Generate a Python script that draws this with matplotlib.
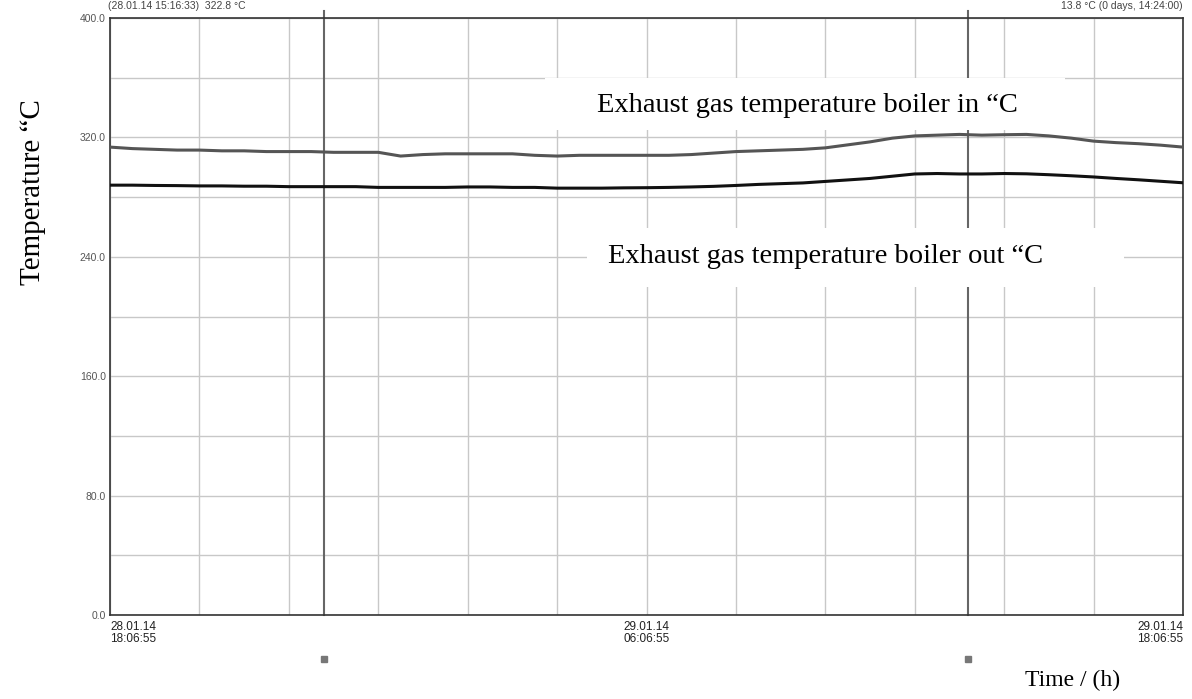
import numpy as np
import matplotlib.pyplot as plt
from matplotlib.patches import Rectangle

# time axis: hours since 28.01.14 18:06:55, read every 30 min
hours = [i * 0.5 for i in range(49)]

boiler_in = [313.5, 312.5, 312.0, 311.5, 311.5, 311.0, 311.0, 310.5, 310.5, 310.5,
             310.0, 310.0, 310.0, 307.5, 308.5, 309.0, 309.0, 309.0, 309.0, 308.0,
             307.5, 308.0, 308.0, 308.0, 308.0, 308.0, 308.5, 309.5, 310.5, 311.0,
             311.5, 312.0, 313.0, 315.0, 317.0, 319.5, 321.0, 321.5, 322.0, 321.5,
             321.8, 322.0, 321.0, 319.5, 317.5, 316.5, 315.8, 314.8, 313.5]

boiler_out = [288.0, 288.0, 287.8, 287.7, 287.5, 287.5, 287.3, 287.3, 287.0, 287.0,
              287.0, 287.0, 286.5, 286.5, 286.5, 286.5, 286.8, 286.8, 286.5, 286.5,
              286.0, 286.0, 286.0, 286.2, 286.3, 286.5, 286.8, 287.2, 287.8, 288.5,
              289.0, 289.5, 290.5, 291.5, 292.5, 294.0, 295.5, 295.8, 295.5, 295.5,
              295.8, 295.6, 295.0, 294.3, 293.5, 292.5, 291.6, 290.6, 289.6]

cursors = [4.79, 19.19]
y_ticks = [0, 80, 160, 240, 320, 400]
x_label_pos = [0, 12, 24]
x_labels = ["28.01.14\n18:06:55", "29.01.14\n06:06:55", "29.01.14\n18:06:55"]
header_left = "(28.01.14 15:16:33)  322.8 °C"
header_right = "13.8 °C (0 days, 14:24:00)"

W, H = 1192, 699
fig = plt.figure(figsize=(W / 100, H / 100), dpi=100)
ax = fig.add_axes([110 / W, 1 - 615 / H, 1073 / W, 597 / H])

ax.plot(hours, boiler_in, color="#555555", lw=2.2, zorder=3)
ax.plot(hours, boiler_out, color="#111111", lw=2.2, zorder=3)

ax.set_xlim(0, 24)
ax.set_ylim(0, 400)
ax.set_xticks(np.arange(0, 25, 2))
ax.set_xticklabels([])
ax.set_yticks(np.arange(0, 401, 40))
ax.set_yticklabels([f"{v:.1f}" if v in y_ticks else "" for v in np.arange(0, 401, 40)],
                   fontsize=7.5, color="#555555", family="Liberation Sans")
ax.tick_params(length=0, pad=3)
ax.grid(True, color="#c8c8c8", lw=1)
ax.set_axisbelow(True)
for s in ax.spines.values():
    s.set_color("#333333")
    s.set_linewidth(1.2)

# date/time labels under the axis
for xp, lab, ha in zip(x_label_pos, x_labels, ["left", "center", "right"]):
    ax.text(xp, -4, lab, ha=ha, va="top", fontsize=8.5, family="Liberation Sans",
            color="#222222", linespacing=1.0, clip_on=False)

# cursor lines with their handles below the axis
for c in cursors:
    ax.plot([c, c], [0, 405], color="#666666", lw=1.5, clip_on=False, zorder=2)
    ax.plot([c], [-29.5], marker="s", ms=4, color="#777777", clip_on=False)

# white boxes behind the two captions (hide the grid)
fig.patches.append(Rectangle((545 / W, 1 - 130 / H), 520 / W, 52 / H,
                             transform=fig.transFigure, facecolor="white",
                             edgecolor="none", zorder=1.5))
fig.patches.append(Rectangle((587 / W, 1 - 287 / H), 537 / W, 59 / H,
                             transform=fig.transFigure, facecolor="white",
                             edgecolor="none", zorder=1.5))
ax.set_zorder(1)
ax.patch.set_visible(False)

fig.text(807 / W, 1 - 106 / H, "Exhaust gas temperature boiler in \u201cC", fontsize=20.5,
         family="Liberation Serif", ha="center", va="center", zorder=4)
fig.text(826 / W, 1 - 257 / H, "Exhaust gas temperature boiler out \u201cC", fontsize=20.5,
         family="Liberation Serif", ha="center", va="center", zorder=4)

fig.text(33 / W, 1 - 192 / H, "Temperature \u201cC", rotation=90, fontsize=21,
         family="Liberation Serif", ha="center", va="center")
fig.text(1120 / W, 1 - 680 / H, "Time / (h)", fontsize=17,
         family="Liberation Serif", ha="right", va="center")

# cursor readouts above the plot
fig.text(108 / W, 1 - 1 / H, header_left, fontsize=7.5, family="Liberation Sans",
         color="#444444", ha="left", va="top")
fig.text(1183 / W, 1 - 1 / H, header_right, fontsize=7.5, family="Liberation Sans",
         color="#444444", ha="right", va="top")

fig.savefig("out.png", dpi=100)
